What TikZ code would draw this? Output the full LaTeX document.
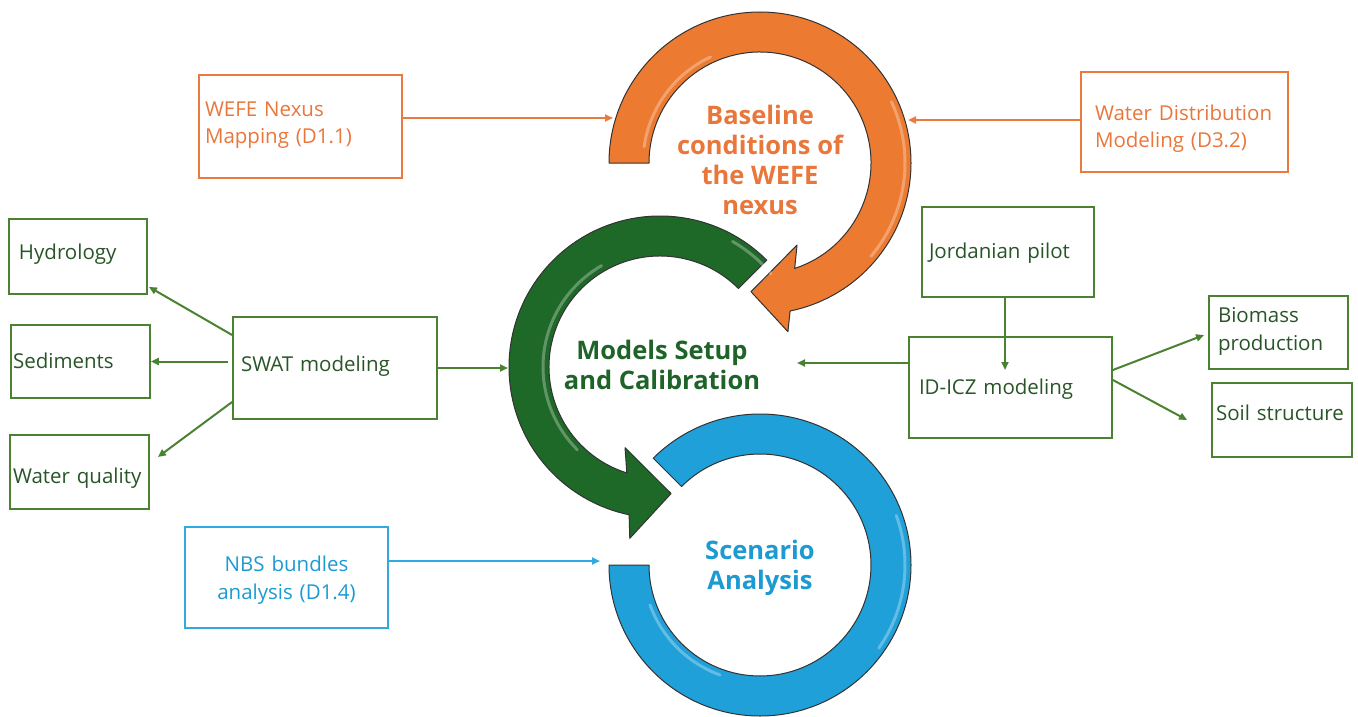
\documentclass[tikz,border=0pt]{standalone}
\usepackage{fontspec}
\setmainfont{Open Sans}
\usetikzlibrary{arrows.meta}
\definecolor{ogring}{HTML}{EC7A30}
\definecolor{ogtext}{HTML}{E9763A}
\definecolor{ogline}{HTML}{E97A40}
\definecolor{gnring}{HTML}{1E6828}
\definecolor{gntitle}{HTML}{1E6428}
\definecolor{gnline}{HTML}{4B8232}
\definecolor{gntext}{HTML}{285528}
\definecolor{blring}{HTML}{1FA0D9}
\definecolor{bltitle}{HTML}{1C9AD2}
\definecolor{blline}{HTML}{30AADF}
\definecolor{ringedge}{HTML}{333333}
\newcommand\boxfont{\fontsize{20.5}{28}\selectfont}
\newcommand\titlefont{\fontsize{25.5}{30}\selectfont\bfseries}
\tikzset{
  box/.style={draw, line width=1.8pt, rectangle, inner ysep=0pt, align=left, font=\boxfont},
  gbox/.style={box, draw=gnline, text=gntext},
  obox/.style={box, draw=ogline, text=ogtext},
  bbox/.style={box, draw=blline, text=bltitle},
  one/.style={text height=#1, text depth=5pt},
  two/.style={text height=#1, text depth=33pt},
  ring/.style={fill=#1, draw=ringedge, line width=1pt, line join=round},
  hl/.style={white, opacity=0.3, line width=3pt, line cap=round},
  conn/.style={draw=#1, line width=2pt, -{Triangle[length=8pt,width=7pt]}},
  title/.style={align=center, font=\titlefont, inner sep=0pt},
}
\begin{document}
\begin{tikzpicture}[x=1pt, y=-1pt]
\useasboundingbox (0,0) rectangle (1358,717);

% ---- orange ring (baseline) ----
\begin{scope}[shift={(760,163)}, yscale=-1]
  \path[ring=ogring] (180:111) -- (180:151) arc[start angle=180, end angle=-78.5, radius=151]
     -- (-80.6:171) -- (-94:129) -- (-65.7:90) -- (-71.8:111)
     arc[start angle=-71.8, end angle=180, radius=111] -- cycle;
  \draw[hl] (172:117) arc[start angle=172, end angle=115, radius=117];
  \draw[hl] (25:145) arc[start angle=25, end angle=-40, radius=145];
\end{scope}

% ---- blue ring (scenario) ----
\begin{scope}[shift={(760,565)}, yscale=-1]
  \path[ring=blring] (180:111) -- (180:151) arc[start angle=180, end angle=495, radius=151]
     -- (495:111) arc[start angle=495, end angle=180, radius=111] -- cycle;
  \draw[hl] (200:117) arc[start angle=200, end angle=250, radius=117];
  \draw[hl] (20:145) arc[start angle=20, end angle=-35, radius=145];
\end{scope}

% ---- green ring (models) ----
\begin{scope}[shift={(660,367)}, yscale=-1]
  \path[ring=gnring] (45:111) -- (45:151) arc[start angle=45, end angle=258.2, radius=151]
     -- (260:174) -- (275:127) -- (246.6:88) -- (252.6:111)
     arc[start angle=252.6, end angle=45, radius=111] -- cycle;
  \draw[hl] (120:117) arc[start angle=120, end angle=225, radius=117];
  \draw[hl] (60:145) arc[start angle=60, end angle=40, radius=145];
\end{scope}

% ---- titles ----
\node[title, text=ogtext] (tbase) at (760,160) {Baseline\\conditions of\\the WEFE\\nexus};
\node[title, text=gntitle] (tmodel) at (662,365) {Models Setup\\and Calibration};
\node[title, text=bltitle] (tscen) at (760,568) {Scenario\\Analysis};

% ---- boxes ----
\node[obox, two=12pt, minimum width=203pt, minimum height=103pt, text width=191pt, inner xsep=6pt] (wefe) at (300.5,126.5) {\mbox{WEFE Nexus}\\\mbox{Mapping (D1.1)}};
\node[obox, two=29pt, minimum width=207pt, minimum height=100pt, text width=179pt, inner xsep=14pt] (wdm) at (1184.5,122) {\mbox{Water Distribution}\\\mbox{Modeling (D3.2)}};
\node[bbox, two=21pt, align=center, minimum width=203pt, minimum height=101pt, text width=191pt, inner xsep=6pt] (nbs) at (286.5,577.5) {\mbox{NBS bundles}\\\mbox{analysis (D1.4)}};

\node[gbox, one=11pt, minimum width=138pt, minimum height=75pt, text width=118pt, inner xsep=10pt] (hyd) at (78,256.5) {\mbox{Hydrology}};
\node[gbox, one=19pt, minimum width=139pt, minimum height=73pt, text width=135pt, inner xsep=2pt] (sed) at (80.5,361.5) {\mbox{Sediments}};
\node[gbox, one=28pt, minimum width=139pt, minimum height=74pt, text width=133pt, inner xsep=3pt] (wq) at (79.5,472) {\mbox{Water quality}};
\node[gbox, one=12pt, minimum width=204pt, minimum height=102pt, text width=188pt, inner xsep=8pt] (swat) at (335,368) {\mbox{SWAT modeling}};
\node[gbox, one=18pt, minimum width=172pt, minimum height=90pt, text width=158pt, inner xsep=7pt] (jordan) at (1008,252) {\mbox{Jordanian pilot}};
\node[gbox, one=18pt, minimum width=203pt, minimum height=101pt, text width=183pt, inner xsep=10pt] (idicz) at (1010.5,387.5) {\mbox{ID-ICZ modeling}};
\node[gbox, two=13pt, minimum width=139pt, minimum height=73pt, text width=121pt, inner xsep=9pt] (bio) at (1278.5,332.5) {\mbox{Biomass}\\\mbox{production}};
\node[gbox, one=5pt, minimum width=140pt, minimum height=74pt, text width=132pt, inner xsep=4pt] (soil) at (1282,420) {\mbox{Soil structure}};

% ---- connector end points on the rings ----
\coordinate (oinL) at (613,118);
\coordinate (oinR) at (908,120);
\coordinate (ginL) at (508,368);
\coordinate (ginR) at (797,363);
\coordinate (binL) at (600,561);

% ---- connectors ----
\draw[conn=ogline] ([yshift=8.5pt]wefe.east) -- (oinL);
\draw[conn=ogline] ([yshift=2pt]wdm.west) -- (oinR);
\draw[conn=blline] ([yshift=16.5pt]nbs.east) -- (binL);
\draw[conn=gnline] (swat.east) -- (ginL);
\draw[conn=gnline] ([yshift=24.5pt]idicz.west) -- (ginR);
\draw[conn=gnline] ([yshift=33pt]swat.west) -- ([xshift=1pt,yshift=8pt]hyd.south east);
\draw[conn=gnline] ([xshift=-4pt]swat.west |- sed.east) -- (sed.east);
\draw[conn=gnline] ([yshift=-34pt]swat.west) -- ([xshift=8pt,yshift=15pt]wq.east);
\draw[conn=gnline] ([xshift=-3pt]jordan.south) -- ([xshift=-3pt,yshift=17.5pt]jordan.south |- idicz.center);
\draw[conn=gnline] ([yshift=17.5pt]idicz.east) -- ([xshift=-4pt,yshift=-2.5pt]bio.west);
\draw[conn=gnline] ([yshift=7.5pt]idicz.east) -- ([xshift=-24pt]soil.west);
\end{tikzpicture}
\end{document}
